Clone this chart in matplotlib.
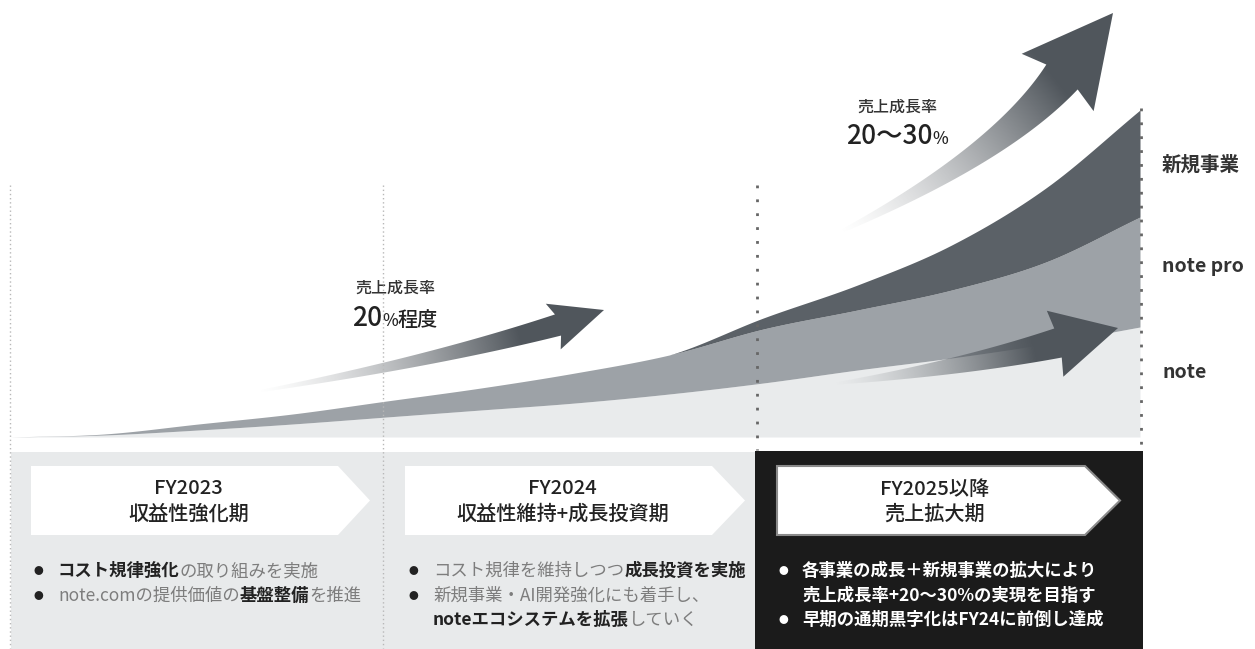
import numpy as np
import matplotlib
matplotlib.use('Agg')
import matplotlib.pyplot as plt
from matplotlib.patches import Polygon, Rectangle
from matplotlib.offsetbox import TextArea, HPacker, AnnotationBbox

FONT = ['Noto Sans CJK JP', 'DejaVu Sans']
plt.rcParams['font.family'] = FONT

# stacked revenue image per quarter (FY2023 start = 0, end of FY2025 = 3)
period   = [0, 0.25, 0.5, 0.75, 1.0, 1.25, 1.5, 1.75, 2.0, 2.25, 2.5, 2.75, 3.0]
note     = [0, 2, 7, 13, 20, 27, 34, 43, 54, 67, 79, 93, 110]
note_pro = [0, 1, 6, 10, 16, 22, 30, 39, 54, 60, 68, 82, 110]
new_biz  = [0, 0, 0, 0, 0, 0, 0, 0, 11, 25, 45, 74, 107]
series_labels = ['note', 'note pro', '新規事業']
series_colors = ['#e9ebec', '#9da2a7', '#5b6167']

phase_titles = [('FY2023', '収益性強化期'),
                ('FY2024', '収益性維持+成長投資期'),
                ('FY2025以降', '売上拡大期')]

DARK, GRAY = '#222222', '#7d7d7d'
phase_bullets = [
    [[('コスト規律強化', 'bold', DARK), ('の取り組みを実施', 'normal', GRAY)],
     [('note.comの提供価値の', 'normal', GRAY), ('基盤整備', 'bold', DARK), ('を推進', 'normal', GRAY)]],
    [[('コスト規律を維持しつつ', 'normal', GRAY), ('成長投資を実施', 'bold', DARK)],
     [('新規事業・AI開発強化にも着手し、', 'normal', GRAY)],
     None,
     [('noteエコシステムを拡張', 'bold', DARK), ('していく', 'normal', GRAY)]],
    [[('各事業の成長＋新規事業の拡大により', 'bold', 'white')],
     None,
     [('売上成長率+20〜30%の実現を目指す', 'bold', 'white')],
     [('早期の通期黒字化はFY24に前倒し達成', 'bold', 'white')]],
]

W, H = 1255, 649
fig = plt.figure(figsize=(W / 100, H / 100), dpi=100)


def smooth(x, y, k=16):
    # Catmull-Rom curve through the points, for drawing only
    x = np.asarray(x, float)
    y = np.asarray(y, float)
    xp = np.r_[2 * x[0] - x[1], x, 2 * x[-1] - x[-2]]
    yp = np.r_[2 * y[0] - y[1], y, 2 * y[-1] - y[-2]]
    t = np.linspace(0, 1, k, endpoint=False)
    xs, ys = [], []
    for i in range(1, len(xp) - 2):
        for arr, out in ((xp, xs), (yp, ys)):
            p0, p1, p2, p3 = arr[i - 1:i + 3]
            out.append(0.5 * (2 * p1 + (-p0 + p2) * t + (2 * p0 - 5 * p1 + 4 * p2 - p3) * t ** 2
                              + (-p0 + 3 * p1 - 3 * p2 + p3) * t ** 3))
    return np.r_[np.concatenate(xs), x[-1]], np.r_[np.concatenate(ys), y[-1]]


# ---- stacked area chart ----
axc = fig.add_axes([10 / W, (H - 437) / H, 1130 / W, 437 / H])
cum = np.cumsum([note, note_pro, new_biz], axis=0)
prev = None
for top, col in zip(cum, series_colors):
    xs, ys = smooth(period, top)
    ys = np.maximum(ys, 0)
    if prev is not None:
        ys = np.maximum(ys, prev)
    axc.fill_between(xs, 0 if prev is None else prev, ys, color=col, lw=0)
    prev = ys
axc.set_xlim(0, 3)
axc.set_ylim(0, 437)
axc.axis('off')

# ---- overlay in pixel coords ----
ax = fig.add_axes([0, 0, 1, 1])
ax.set_xlim(0, W)
ax.set_ylim(H, 0)
ax.axis('off')
ax.patch.set_alpha(0)


def rich(x, y, parts, ha='left'):
    boxes = [TextArea(t, textprops=dict(fontsize=s, fontweight=w, color=c, family=FONT))
             for t, s, w, c in parts]
    pack = HPacker(children=boxes, align='baseline', pad=0, sep=0)
    ab = AnnotationBbox(pack, (x, y), xycoords='data', frameon=False, pad=0,
                        box_alignment=(0 if ha == 'left' else 0.5, 0.5))
    ax.add_artist(ab)


def grad_arrow(p0, c, p2, tip, w0, w1, head_hw, notch, color='#50565c', fade=0.75):
    P0, C, P2, T = (np.array(v, float) for v in (p0, c, p2, tip))
    t = np.linspace(0, 1, 80)[:, None]
    pts = (1 - t) ** 2 * P0 + 2 * (1 - t) * t * C + t ** 2 * P2
    d = 2 * (1 - t) * (C - P0) + 2 * t * (P2 - C)
    d /= np.linalg.norm(d, axis=1)[:, None]
    n = np.hstack([-d[:, 1:2], d[:, 0:1]])
    w = (w0 + (w1 - w0) * t) / 2
    top, bot = pts + n * w, pts - n * w
    hd = (T - P2) / np.linalg.norm(T - P2)
    hn = np.array([-hd[1], hd[0]])
    base = P2 - hd * notch
    poly = np.vstack([top, base + hn * head_hw, T, base - hn * head_hw, bot[::-1]])
    patch = Polygon(poly, closed=True, fc='none', ec='none')
    ax.add_patch(patch)
    x0, y0 = poly.min(axis=0) - 2
    x1, y1 = poly.max(axis=0) + 2
    X, Y = np.meshgrid(np.arange(x0, x1), np.arange(y0, y1))
    L = np.linalg.norm(T - P0)
    u = (T - P0) / L
    s = ((X - P0[0]) * u[0] + (Y - P0[1]) * u[1]) / L
    img = np.zeros(X.shape + (4,))
    img[..., :3] = matplotlib.colors.to_rgb(color)
    img[..., 3] = np.clip(s / fade, 0, 1) ** 1.4
    im = ax.imshow(img, extent=(x0, x1, y1, y0), origin='upper', aspect='auto',
                   interpolation='bilinear', zorder=3)
    im.set_clip_path(patch)


grad_arrow((255, 392), (430, 362), (558, 325), (604, 310), 2, 22, 24, 5)
grad_arrow((838, 233), (1000, 155), (1062, 77), (1113, 13), 3, 40, 46, 7)
grad_arrow((832, 384), (961, 368), (1058, 343), (1118, 328), 2, 30, 34, 3, fade=0.7)

# growth-rate labels
ax.text(395, 288, '売上成長率', fontsize=11.5, fontweight='medium', color='#333333',
        ha='center', va='center')
rich(395, 318, [('20', 19, 'medium', '#222222'), ('%', 12, 'medium', '#222222'),
                ('程度', 14.5, 'medium', '#222222')], ha='center')
ax.text(897, 107, '売上成長率', fontsize=11.5, fontweight='medium', color='#333333',
        ha='center', va='center')
rich(897, 137, [('20〜30', 19, 'medium', '#222222'), ('%', 12, 'medium', '#222222')], ha='center')

# series labels at right
for lab, yy in zip(series_labels[::-1], [165, 266, 373]):
    ax.text(1162, yy, lab, fontsize=14, fontweight='bold', color='#333333', va='center')

# period divider lines
for xx in [10, 383]:
    ax.plot([xx, xx], [185, 648], ls=(0, (1, 2)), color='#b8b8b8', lw=1, zorder=4)
ax.plot([757, 757], [185, 450], ls=(0, (1, 4)), color='#666666', lw=2, zorder=4)
ax.plot([1141, 1141], [108, 449], ls=(0, (1, 4)), color='#666666', lw=2, zorder=4)

# bottom panels
ax.add_patch(Rectangle((11, 452), 745, 197, fc='#e8eaeb', ec='none', zorder=1))
ax.add_patch(Rectangle((755, 451), 388, 198, fc='#1b1b1b', ec='none', zorder=1))

pent_x = [(31, 338, 370), (405, 712, 745), (777, 1085, 1120)]
for i, ((px0, pxf, px1), (t1, t2)) in enumerate(zip(pent_x, phase_titles)):
    y0, y1 = 466, 535
    ec = '#8a8a8a' if i == 2 else 'none'
    ax.add_patch(Polygon([(px0, y0), (pxf, y0), (px1, (y0 + y1) / 2), (pxf, y1), (px0, y1)],
                         closed=True, fc='white', ec=ec, lw=1.5, zorder=2))
    cx = (px0 + pxf) / 2 + 4
    ax.text(cx, 489, t1, fontsize=14.5, fontweight='medium', color=DARK,
            ha='center', va='center', zorder=5)
    ax.text(cx, 514, t2, fontsize=14.5, fontweight='medium', color=DARK,
            ha='center', va='center', zorder=5)

bullet_x = [(38, 58), (413, 433), (783, 802)]
for i, lines in enumerate(phase_bullets):
    bx, tx = bullet_x[i]
    bc = 'white' if i == 2 else '#222222'
    row = 0
    for j, parts in enumerate(lines):
        if parts is None:
            continue
        yy = [571, 596, 620][row]
        row += 1
        if j in (0, 1) or (i == 2 and j == 3):
            ax.text(bx, yy, '●', fontsize=7, color=bc, ha='center', va='center', zorder=5)
        rich(tx, yy, [(t, 12.5, w, c) for t, w, c in parts])

fig.savefig('out.png', dpi=100)
